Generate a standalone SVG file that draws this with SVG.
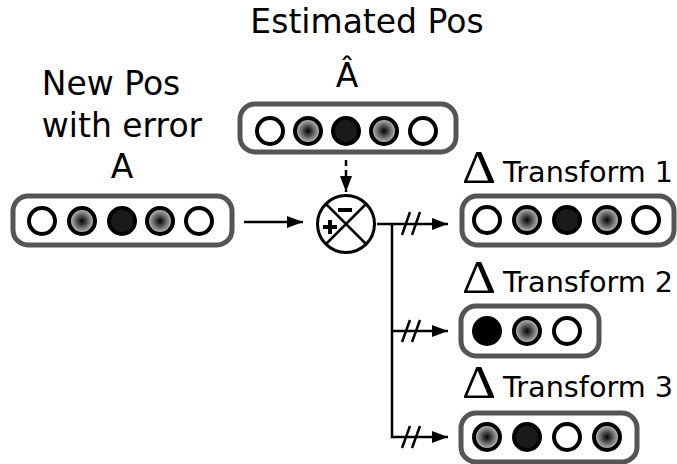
<svg xmlns="http://www.w3.org/2000/svg" width="677" height="464" viewBox="0 0 677 464">
<style>
.box{fill:#fff;stroke:#555;stroke-width:5}
.c{stroke:#000;stroke-width:4}
.w{fill:#fff}
.g{fill:url(#rg)}
.d{fill:#1a1a1a}
.k{fill:#000}
.t{font-family:"DejaVu Sans",sans-serif;fill:#000}
.ln{stroke:#000;stroke-width:2.5;fill:none}
.dl{font-family:"Liberation Serif",serif;fill:#000;font-size:46px}
</style>
<defs>
<radialGradient id="rg" cx="0.5" cy="0.5" r="0.5">
<stop offset="0" stop-color="#000"/>
<stop offset="1" stop-color="#d0d0d0"/>
</radialGradient>
<marker id="ah" markerWidth="16" markerHeight="12" refX="16" refY="6" orient="auto" markerUnits="userSpaceOnUse">
<path d="M0,0 L16,6 L0,12 Z" fill="#000"/>
</marker>
</defs>
<g id="labels">
<text class="t" x="111" y="95" font-size="33" text-anchor="middle">New Pos</text>
<text class="t" x="122" y="137" font-size="33" text-anchor="middle">with error</text>
<text class="t" x="122" y="178" font-size="33" text-anchor="middle">A</text>
<text class="t" x="367" y="33" font-size="33" text-anchor="middle">Estimated Pos</text>
<text class="t" x="347" y="87" font-size="33" text-anchor="middle">Â</text>
</g>
<g id="nodeA">
<rect class="box" x="13" y="196" width="219" height="49" rx="15"/>
<circle class="c w" cx="42" cy="221" r="13"/>
<circle class="c g" cx="82" cy="221" r="13"/>
<circle class="c d" cx="122" cy="221" r="13"/>
<circle class="c g" cx="160" cy="221" r="13"/>
<circle class="c w" cx="199" cy="221" r="13"/>
</g>
<g id="nodeEst">
<rect class="box" x="240" y="104" width="216" height="48" rx="15"/>
<circle class="c w" cx="270" cy="131" r="13"/>
<circle class="c g" cx="308" cy="131" r="13"/>
<circle class="c d" cx="346" cy="131" r="13"/>
<circle class="c g" cx="384" cy="131" r="13"/>
<circle class="c w" cx="423" cy="131" r="13"/>
</g>
<g id="sum">
<circle cx="346" cy="224" r="28.5" fill="#fff" stroke="#000" stroke-width="3"/>
<line x1="326" y1="204" x2="366" y2="244" stroke="#000" stroke-width="2.5"/>
<line x1="366" y1="204" x2="326" y2="244" stroke="#000" stroke-width="2.5"/>
<rect x="338" y="208" width="14" height="4" fill="#000"/>
<rect x="323" y="225" width="14" height="4" fill="#000"/>
<rect x="328" y="220" width="4" height="14" fill="#000"/>
</g>
<g id="t1">
<text class="dl" x="479" y="183" text-anchor="middle" transform="translate(479 0) scale(1.15 1) translate(-479 0)">Δ</text>
<text class="t" x="503" y="182" font-size="28.7">Transform 1</text>
<rect class="box" x="462" y="196" width="212" height="49" rx="15"/>
<circle class="c w" cx="487" cy="220" r="13"/>
<circle class="c g" cx="527" cy="220" r="13"/>
<circle class="c d" cx="567" cy="220" r="13"/>
<circle class="c g" cx="607" cy="220" r="13"/>
<circle class="c w" cx="646" cy="220" r="13"/>
</g>
<g id="t2">
<text class="dl" x="479" y="293" text-anchor="middle" transform="translate(479 0) scale(1.15 1) translate(-479 0)">Δ</text>
<text class="t" x="503" y="292" font-size="28.7">Transform 2</text>
<rect class="box" x="461" y="306" width="138" height="50" rx="15"/>
<circle class="c k" cx="487" cy="331" r="13"/>
<circle class="c g" cx="527" cy="331" r="13"/>
<circle class="c w" cx="567" cy="331" r="13"/>
</g>
<g id="t3">
<text class="dl" x="479" y="398" text-anchor="middle" transform="translate(479 0) scale(1.15 1) translate(-479 0)">Δ</text>
<text class="t" x="503" y="397" font-size="28.7">Transform 3</text>
<rect class="box" x="461" y="413" width="176" height="49" rx="15"/>
<circle class="c g" cx="487" cy="437" r="13"/>
<circle class="c d" cx="527" cy="437" r="13"/>
<circle class="c w" cx="567" cy="437" r="13"/>
<circle class="c g" cx="607" cy="437" r="13"/>
</g>
<g id="connectors">
<line class="ln" x1="244" y1="222" x2="303" y2="222" marker-end="url(#ah)"/>
<line class="ln" x1="346" y1="160" x2="346" y2="192" stroke-dasharray="6,4" marker-end="url(#ah)"/>
<line class="ln" x1="377" y1="224" x2="448" y2="224" marker-end="url(#ah)"/>
<polyline class="ln" points="392,224 392,437 448,437" marker-end="url(#ah)"/>
<line class="ln" x1="392" y1="331" x2="448" y2="331" marker-end="url(#ah)"/>
<g class="ln">
<line x1="402" y1="235" x2="410" y2="212"/>
<line x1="412" y1="235" x2="420" y2="212"/>
<line x1="402" y1="342" x2="410" y2="320"/>
<line x1="412" y1="342" x2="420" y2="320"/>
<line x1="402" y1="448" x2="410" y2="426"/>
<line x1="412" y1="448" x2="420" y2="426"/>
</g>
</g>
</svg>
